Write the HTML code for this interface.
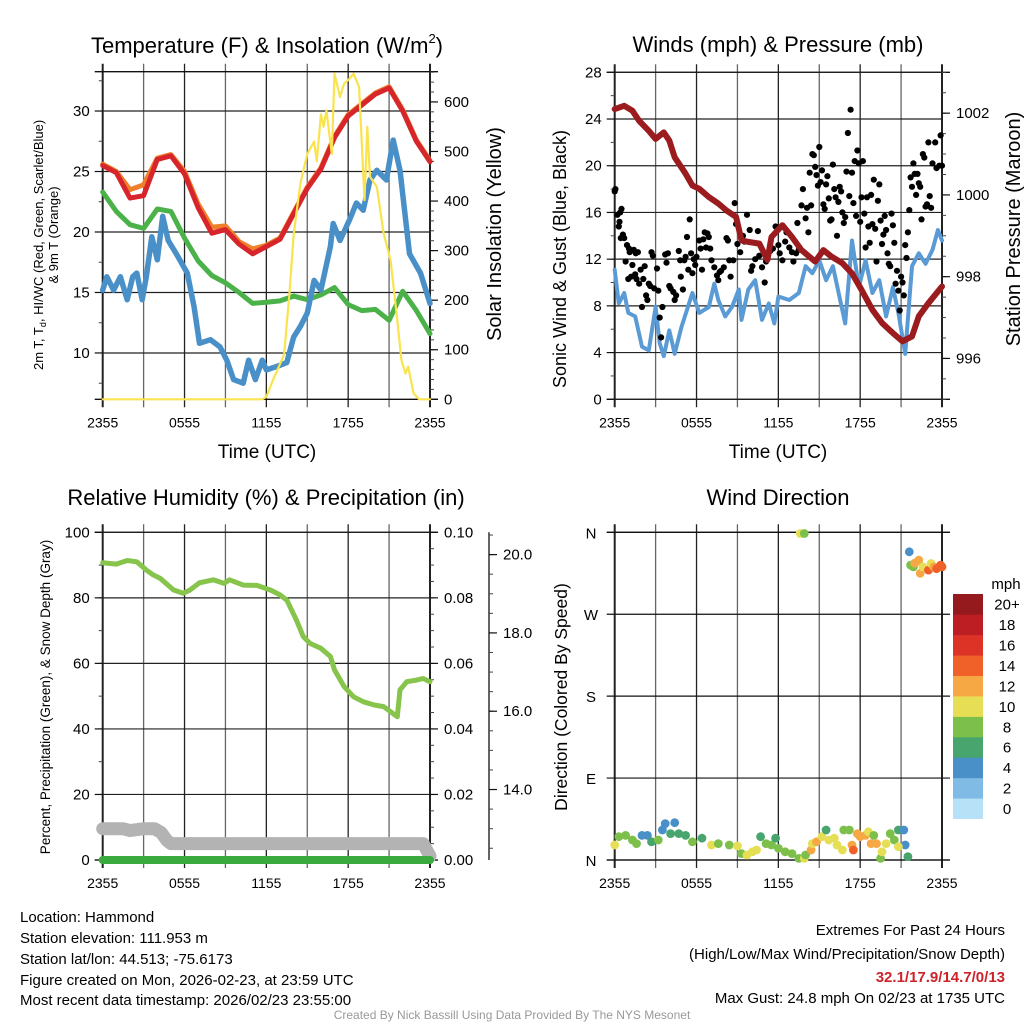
<!DOCTYPE html>
<html><head><meta charset="utf-8">
<style>
html,body{margin:0;padding:0;background:#fff;}
svg text{font-family:"Liberation Sans",sans-serif;fill:#000;}
</style></head>
<body>
<svg id="chart" width="1024" height="1024" viewBox="0 0 1024 1024" xmlns="http://www.w3.org/2000/svg">
<rect width="1024" height="1024" fill="#fff"/>
<g id="layer"></g>
<text x="20" y="922" font-size="15">Location: Hammond</text>
<text x="20" y="943" font-size="15">Station elevation: 111.953 m</text>
<text x="20" y="964" font-size="15">Station lat/lon: 44.513; -75.6173</text>
<text x="20" y="985" font-size="15">Figure created on Mon, 2026-02-23, at 23:59 UTC</text>
<text x="20" y="1005" font-size="15">Most recent data timestamp: 2026/02/23 23:55:00</text>
<text x="1005" y="935" font-size="15" text-anchor="end">Extremes For Past 24 Hours</text>
<text x="1005" y="959" font-size="15" text-anchor="end">(High/Low/Max Wind/Precipitation/Snow Depth)</text>
<text x="1005" y="982" font-size="15" font-weight="bold" text-anchor="end" style="fill:#cc2229">32.1/17.9/14.7/0/13</text>
<text x="1005" y="1003" font-size="15" text-anchor="end">Max Gust: 24.8 mph On 02/23 at 1735 UTC</text>
<text x="512" y="1019" font-size="12" text-anchor="middle" style="fill:#999">Created By Nick Bassill Using Data Provided By The NYS Mesonet</text>
</svg>
<script>
// ---- Data (hours since 2355 UTC) ----
const timeLabels = ["2355","0555","1155","1755","2355"];
const tempHours = [0,1,2,3,4,5,6,7,8,9,10,11,12,13,14,15,16,17,18,19,20,21,22,23,24];
const tempRed = [25.5,24.9,22.8,23.0,26.0,26.3,24.8,22.0,19.9,20.2,19.0,18.2,18.8,19.4,21.5,23.6,25.2,27.8,29.6,30.5,31.4,31.9,30.0,27.5,25.8];
const tempOrange = [25.6,25.0,23.5,23.9,26.1,26.4,25.0,22.3,20.4,20.5,19.2,18.6,18.9,19.5,21.6,23.7,25.3,27.9,29.7,30.6,31.5,32.0,30.1,27.6,25.9];
const tempGreen = [23.3,21.7,20.6,20.3,21.9,21.7,19.5,17.6,16.4,15.8,15.0,14.1,14.2,14.3,14.7,14.4,14.8,15.4,14.0,13.5,13.6,12.7,15.1,13.5,11.6];
const dewHours = [0,0.3,0.8,1.3,1.8,2.2,2.5,2.9,3.2,3.6,4.0,4.4,4.8,5.4,6.2,6.7,7.1,7.9,8.6,9.1,9.6,10.3,10.7,11.2,11.7,12.0,12.8,13.5,14.0,14.5,15.0,15.5,16.0,16.7,16.9,17.4,18.1,18.6,19.1,19.6,20.1,20.8,21.3,21.8,22.5,23.3,24];
const dewBlue = [15.2,16.3,15.2,16.3,14.4,16.3,16.6,14.4,16.3,19.6,17.7,21.3,19.3,18.2,16.6,13.8,10.8,11.1,10.5,9.4,7.8,7.5,9.4,7.8,9.4,8.6,8.9,9.2,11.3,12.2,13.3,16.0,15.2,18.8,20.7,19.3,21.0,22.4,21.8,24.3,25.1,24.3,27.6,25.1,18.2,16.6,14.1];
const solarHours = [0,11.7,12.0,12.5,13.3,13.7,14.0,14.2,14.5,14.7,15.0,15.5,15.7,16.0,16.2,16.4,16.8,17.0,17.4,17.7,18.0,18.4,18.8,19.0,19.2,19.4,19.6,20.1,20.6,21.1,21.6,21.9,22.2,22.4,22.8,23.2,24];
const solarVals = [0,0,5,40,90,215,330,375,435,460,495,520,480,575,550,583,495,657,610,637,644,657,630,516,402,550,449,429,335,281,160,79,52,66,12,0,0];
const presHours = [0,0.7,1.3,1.8,2.5,3.0,3.6,4.0,4.4,5.2,5.7,6.2,6.9,7.6,8.2,8.9,9.3,9.8,10.6,11.2,11.5,12.3,13.0,13.7,14.7,15.3,15.9,16.7,17.4,18.1,18.9,19.6,20.4,21.1,21.8,22.3,23.0,24];
const presVals = [1002.1,1002.18,1002.06,1001.81,1001.57,1001.37,1001.53,1001.33,1000.92,1000.52,1000.23,1000.15,999.95,999.79,999.62,999.46,998.89,998.85,998.81,998.41,998.97,999.26,998.97,998.65,998.37,998.65,998.49,998.33,998.08,997.68,997.19,996.87,996.62,996.42,996.54,997.03,997.35,997.76];
const windHours = [0,0.3,0.7,1.0,1.5,2.0,2.5,3.0,3.3,3.6,4.0,4.4,4.9,5.7,6.2,6.9,7.3,7.6,8.1,8.6,9.1,9.3,9.8,10.3,10.8,11.3,11.7,12.0,12.8,13.5,14.0,14.5,15.0,15.5,16.0,16.7,16.9,17.4,17.9,18.4,18.9,19.4,19.9,20.4,20.8,21.3,21.8,22.3,22.8,23.3,23.7,24];
const windVals = [11.1,8.2,9.1,7.4,7.1,4.5,4.2,7.9,4.8,3.7,5.9,3.9,6.2,9.1,7.4,7.9,9.9,8.5,7.1,7.9,9.4,6.8,9.4,10.2,6.8,8.2,6.5,8.8,8.5,9.1,11.4,10.8,11.9,10.2,11.4,7.6,6.5,13.6,9.6,11.9,9.1,10.2,7.1,9.6,7.4,3.9,11.4,12.5,11.6,12.8,14.5,13.6];
const gustHours = [0,0.05,0.2,0.3,0.35,0.4,0.45,0.5,0.6,0.7,0.8,0.9,1.0,1.05,1.1,1.2,1.3,1.4,1.5,1.55,1.6,1.7,1.8,1.9,2.0,2.1,2.2,2.3,2.4,2.5,2.6,2.7,2.8,2.9,3.1,3.2,3.3,3.4,3.5,3.7,3.8,3.9,4.0,4.1,4.3,4.4,4.5,4.7,4.8,4.85,5.0,5.1,5.2,5.3,5.4,5.5,5.6,5.7,5.8,5.9,6.0,6.2,6.3,6.4,6.5,6.6,6.7,6.8,6.9,7.0,7.1,7.3,7.5,7.6,7.7,7.8,8.0,8.2,8.3,8.4,8.5,8.7,8.8,8.9,9.0,9.2,9.4,9.5,9.7,9.9,10.0,10.1,10.3,10.5,10.6,10.8,11.0,11.1,11.2,11.4,11.6,11.8,12.0,12.1,12.3,12.5,12.6,12.8,13.0,13.1,13.3,13.4,13.5,13.7,13.8,14.0,14.1,14.2,14.3,14.4,14.5,14.6,14.7,14.8,14.9,15.0,15.1,15.2,15.3,15.4,15.5,15.6,15.7,15.8,15.9,16.0,16.1,16.2,16.3,16.4,16.5,16.6,16.7,16.8,16.9,17.0,17.1,17.2,17.3,17.4,17.5,17.6,17.7,17.8,17.9,18.0,18.1,18.2,18.3,18.4,18.5,18.6,18.7,18.8,18.9,19.0,19.1,19.2,19.3,19.4,19.5,19.6,19.7,19.8,19.9,20.0,20.1,20.2,20.3,20.4,20.5,20.6,20.7,20.8,20.9,21.0,21.1,21.2,21.3,21.4,21.5,21.6,21.7,21.8,21.9,22.0,22.1,22.2,22.3,22.4,22.5,22.6,22.7,22.8,22.9,23.0,23.1,23.2,23.3,23.5,23.6,23.8,23.9,24];
const gustVals = [17.8,18.0,15.8,14.8,15.2,16.0,13.8,16.3,14.1,13.8,11.8,13.2,10.3,12.9,12.6,10.5,11.5,12.8,10.7,12.5,10.3,12.6,9.9,11.1,7.9,10.3,11.4,8.9,8.5,9.9,9.7,12.6,12.3,9.5,11.2,9.3,7.0,5.3,7.9,12.4,11.7,12.5,9.7,9.5,9.2,8.5,8.9,12.7,11.9,10.5,9.4,11.9,12.2,13.9,11.1,15.4,12.5,10.8,12.0,11.5,12.2,13.6,12.9,11.1,13.7,14.3,13.0,14.2,13.9,12.9,11.9,11.3,10.6,10.2,10.9,11.0,11.3,13.8,13.6,11.9,10.5,11.9,16.8,15.0,13.3,12.6,14.0,13.5,15.8,14.5,11.0,11.4,12.0,14.4,12.3,11.3,10.0,11.8,12.3,12.7,12.9,14.8,13.2,12.5,11.9,13.5,14.3,13.0,12.6,11.8,12.5,15.1,12.8,16.6,18.0,15.5,16.4,14.3,19.4,16.6,21.0,20.9,19.9,19.2,18.3,21.6,18.6,19.6,16.7,16.3,18.4,19.1,17.2,15.3,15.4,20.1,18.0,17.3,14.0,16.9,18.2,17.8,16.0,15.1,15.6,19.5,22.8,17.4,24.8,19.4,16.8,20.4,15.7,21.3,20.2,15.2,17.3,20.4,15.9,13.0,17.3,14.8,13.4,17.5,15.0,18.8,14.6,11.8,17.0,18.4,15.3,13.3,14.1,15.7,14.5,12.5,11.6,11.4,15.9,14.9,13.4,9.9,11.0,9.3,7.6,10.5,10.0,8.9,13.2,12.1,14.3,16.2,19.0,18.2,20.2,19.3,17.5,19.3,18.5,18.2,15.4,21.0,20.7,16.5,16.7,22.0,17.4,16.4,20.2,22.0,19.8,20.0,22.6,20.0];
const rhHours = [0,1.0,1.8,2.5,3.2,3.7,4.2,5.2,5.9,6.4,7.1,8.1,8.9,9.3,10.3,11.3,12.3,13.0,13.5,14.2,14.7,15.2,16.0,16.7,17.0,17.7,18.4,19.1,19.9,20.6,21.1,21.6,21.8,22.3,23.0,23.5,24];
const rhVals = [90.7,90.3,91.4,91.0,88.5,87.0,86.0,82.4,81.4,82.4,84.6,85.5,84.4,85.5,83.9,83.8,82.4,80.9,79.3,73.2,68.2,66.1,64.6,62.1,58.0,52.9,49.8,48.3,47.3,46.8,45.3,43.7,51.9,54.4,54.9,55.4,54.4];
const snowHours = [0,1.5,2.0,3.0,3.8,4.3,4.7,5.0,12,23.5,24];
const snowVals = [13.0,13.0,12.95,13.0,13.0,12.9,12.7,12.62,12.62,12.62,12.3];
const precipHours = [0,24];
const precipVals = [0,0];
const dirHours = [0,0.3,0.8,1.3,1.6,2.0,2.4,2.7,3.2,3.5,3.7,4.1,4.4,4.7,5.2,5.7,6.4,7.1,7.6,8.4,9.0,9.3,9.7,10.1,10.4,10.7,11.1,11.5,11.8,12.0,12.5,13.0,13.5,13.9,14.0,14.4,14.5,14.8,15.2,15.5,15.7,16.1,16.3,16.7,16.8,17.2,17.4,17.5,17.8,18.0,18.4,18.6,18.8,19.0,19.2,19.5,19.6,19.9,20.2,20.5,20.8,21.2,21.3,21.5,20.8,13.6,13.9,21.6,21.7,21.9,22.0,22.3,22.4,22.6,23.0,23.2,23.4,23.6,23.9,24];
const dirVals = [16.5,25.6,27,22,18,27,27,20,22,33,40,29,41,29,27,20,24,16.5,18,16.5,15.4,7,5.5,9,11,25.6,18,16.5,24,12.8,9,7,1.8,1.8,5.5,11,18,20,25.6,33,22,24,16.5,11,33,33,16.5,11,29,25.6,27,31,18,27,18,1.8,9,18,29,22,33,33,16.5,3.7,14.6,358.7,358.7,338.6,324,322,326,329.5,315,322,318.5,325.7,322,320,324,322];
const dirSpeeds = [9,8,7,8,8,4,4,6,7,4,4,6,4,6,6,8,6,10,8,8,10,8,10,10,10,6,8,8,6,8,8,8,8,10,8,12,10,12,10,6,10,10,10,10,8,8,12,14,12,12,12,10,12,8,12,8,10,10,8,8,6,4,4,6,10,10,8,4,8,8,12,12,12,10,14,10,12,14,14,14];
const cbLabels = ["0","2","4","6","8","10","12","14","16","18","20+"];
const cbColors = ["#b6e1f7","#7fbbe5","#4a90c8","#48a56e","#7cc04b","#e6df55","#f6a844","#ef6129","#dd3327","#bd1e24","#951a1d"];

// ---- helpers ----
const NS = "http://www.w3.org/2000/svg";
const layer = document.getElementById('layer');
function mk(tag, attrs, parent) {
  const e = document.createElementNS(NS, tag);
  for (const k in attrs) e.setAttribute(k, attrs[k]);
  (parent || layer).appendChild(e);
  return e;
}
function txt(s, x, y, size, anchor, parent, rot) {
  const t = mk('text', {x: x, y: y, 'font-size': size, 'text-anchor': anchor || 'middle'}, parent);
  if (rot) t.setAttribute('transform', 'rotate(-90 ' + x + ' ' + y + ')');
  t.textContent = s;
  return t;
}
function linScale(d0, d1, r0, r1) { return v => r0 + (v - d0) / (d1 - d0) * (r1 - r0); }
function pathFrom(xs, ys, sx, sy) {
  let d = '';
  for (let i = 0; i < xs.length; i++) d += (i ? 'L' : 'M') + sx(xs[i]).toFixed(1) + ' ' + sy(ys[i]).toFixed(1);
  return d;
}

function panelFrame(L, R, T, B, name) {
  const g = mk('g', {});
  
  
  const sx = linScale(0, 24, L, R);
  for (let h = 0; h <= 24; h += 3) {
    const x = sx(h);
    const l = mk('line', {x1: x, x2: x, y1: T - 8, y2: B + 8, stroke: (h % 6 === 0) ? '#222' : '#666', 'stroke-width': (h === 0 || h === 24) ? 2 : 1.3}, g);
    
    
  }
  mk('line', {x1: L - 8, x2: R + 8, y1: T, y2: T, stroke: '#111', 'stroke-width': 1.3}, g);
  mk('line', {x1: L - 8, x2: R + 8, y1: B, y2: B, stroke: '#111', 'stroke-width': 1.3}, g);
  for (let i = 0; i < timeLabels.length; i++) {
    const t = txt(timeLabels[i], sx(i * 6), B + 28, 14, 'middle', g);
    
    
  }
  return sx;
}
function yAxis(x, T, B, d0, d1, majors, fmt, minorStep, side, name, gridL, gridR) {
  const g = mk('g', {});
  
  
  const sy = linScale(d0, d1, B, T);
  const dir = side === 'left' ? -1 : 1;
  if (minorStep) {
    for (let v = Math.ceil(d0 / minorStep) * minorStep; v <= d1 + 1e-9; v += minorStep) {
      mk('line', {x1: x, x2: x + dir * 4, y1: sy(v), y2: sy(v), stroke: '#444', 'stroke-width': 1}, g);
    }
  }
  majors.forEach(v => {
    const y = sy(v);
    if (gridL !== undefined) mk('line', {x1: gridL, x2: gridR, y1: y, y2: y, stroke: '#222', 'stroke-width': 1.2}, g);
    mk('line', {x1: x, x2: x + dir * 8, y1: y, y2: y, stroke: '#111', 'stroke-width': 1.2}, g);
    const t = txt(fmt(v), side === 'left' ? x - 13 : x + 14, y + 5, 15, side === 'left' ? 'end' : 'start', g);
    
    
  });
  return sy;
}
function line(xs, ys, sx, sy, color, w, name) {
  const p = mk('path', {d: pathFrom(xs, ys, sx, sy), fill: 'none', stroke: color, 'stroke-width': w, 'stroke-linejoin': 'round', 'stroke-linecap': 'round'});
  
  
  return p;
}

// ===== Panel 1: Temperature =====
{
  const L = 102.7, R = 430, T = 71.7, B = 399.3;
  const sx = panelFrame(L, R, T, B, 'temperature');
  const sy = yAxis(L, T, B, 6.17, 33.25, [10,15,20,25,30], v => String(v), 2.5, 'left', 'temperature-y-axis', L, R);
  const ss = yAxis(R, T, B, 0, 661, [0,100,200,300,400,500,600], v => String(v), 20, 'right', 'solar-y-axis');
  line(tempHours, tempOrange, sx, sy, '#f07f2b', 5, 'temp-9m-orange-line');
  line(tempHours, tempRed, sx, sy, '#d7262b', 5, 'temp-2m-red-line');
  line(tempHours, tempGreen, sx, sy, '#4bb24a', 5, 'dewpoint-green-line');
  line(dewHours, dewBlue, sx, sy, '#4a90c8', 5.5, 'windchill-blue-line');
  line(solarHours, solarVals, sx, ss, '#f9e34e', 2.2, 'solar-yellow-line');
  let t = mk('text', {x: 267, y: 53, 'font-size': 22, 'text-anchor': 'middle'});
   
  const t1 = mk('tspan', {}, t); t1.textContent = 'Temperature (F) & Insolation (W/m';
  const t2 = mk('tspan', {'font-size': 13, dy: -10}, t); t2.textContent = '2';
  const t3 = mk('tspan', {dy: 10}, t); t3.textContent = ')';
  t = mk('text', {x: 43, y: 370, 'font-size': 13, 'text-anchor': 'start', transform: 'rotate(-90 43 370)'});
   
  const a = mk('tspan', {}, t); a.textContent = '2m T, T';
  const b = mk('tspan', {'font-size': 9, dy: 3}, t); b.textContent = 'd';
  const c = mk('tspan', {dy: -3}, t); c.textContent = ', HI/WC (Red, Green, Scarlet/Blue)';
  t = txt('& 9m T (Orange)', 58, 235, 13, 'middle', null, true);  
  t = txt('Solar Insolation (Yellow)', 501, 234, 20, 'middle', null, true);  
  t = txt('Time (UTC)', 267, 458, 19, 'middle');  
}

// ===== Panel 2: Winds =====
{
  const L = 614.7, R = 942, T = 72.3, B = 399.3;
  const sx = panelFrame(L, R, T, B, 'winds');
  const sy = yAxis(L, T, B, 0, 28, [0,4,8,12,16,20,24,28], v => String(v), 2, 'left', 'wind-y-axis', L, R);
  const sp = yAxis(R, T, B, 995, 1003, [996,998,1000,1002], v => String(v), 0.5, 'right', 'pressure-y-axis');
  line(windHours, windVals, sx, sy, '#5b9bd5', 4, 'sonic-wind-blue-line');
  const gg = mk('g', {});
  
  
  for (let i = 0; i < gustHours.length; i++) {
    const c = mk('circle', {cx: sx(gustHours[i]).toFixed(1), cy: sy(gustVals[i]).toFixed(1), r: 3.1, fill: '#000'}, gg);
    
    
  }
  line(presHours, presVals, sx, sp, '#9b1c1f', 6, 'pressure-maroon-line');
  let t = txt('Winds (mph) & Pressure (mb)', 778, 52, 22, 'middle');  
  t = txt('Sonic Wind & Gust (Blue, Black)', 566, 259, 18, 'middle', null, true);  
  t = txt('Station Pressure (Maroon)', 1020, 229, 20, 'middle', null, true);  
  t = txt('Time (UTC)', 778, 458, 19, 'middle');  
}

// ===== Panel 3: RH & Precip =====
{
  const L = 102.7, R = 430, T = 532.3, B = 860;
  const sx = panelFrame(L, R, T, B, 'humidity');
  const sy = yAxis(L, T, B, 0, 100, [0,20,40,60,80,100], v => String(v), 10, 'left', 'rh-y-axis', L, R);
  const sp = yAxis(R, T, B, 0, 0.1, [0,0.02,0.04,0.06,0.08,0.1], v => v.toFixed(2), 0.005, 'right', 'precip-y-axis');
  mk('line', {x1: 489, x2: 489, y1: T, y2: B, stroke: '#111', 'stroke-width': 1.3});
  const ssn = yAxis(489, T, B, 12.2, 20.57, [14,16,18,20], v => v.toFixed(1), 0.5, 'right', 'snow-y-axis');
  line(snowHours, snowVals, sx, ssn, '#b3b3b3', 13, 'snow-depth-gray-line');
  line(precipHours, precipVals, sx, sp, '#3aaa3f', 8, 'precip-green-line');
  line(rhHours, rhVals, sx, sy, '#86c44b', 5, 'rh-green-line');
  let t = txt('Relative Humidity (%) & Precipitation (in)', 266, 505, 22, 'middle');  
  t = txt('Percent, Precipitation (Green), & Snow Depth (Gray)', 50, 697, 13.5, 'middle', null, true);  
}

// ===== Panel 4: Wind Direction =====
{
  const L = 614.7, R = 942, T = 532.3, B = 860;
  const sx = panelFrame(L, R, T, B, 'direction');
  const dirLabels = ['N','E','S','W','N'];
  const sy = linScale(0, 360, B, T);
  const g = mk('g', {});
  
  
  dirLabels.forEach((s, i) => {
    const y = sy(i * 90);
    mk('line', {x1: L - 8, x2: R + 8, y1: y, y2: y, stroke: '#111', 'stroke-width': 1.2}, g);
    const t = txt(s, 591, y + 6, 15, 'middle', g);
    
    
  });
  function col(s) { return cbColors[Math.min(10, Math.max(0, Math.round(s / 2)))]; }
  const pg = mk('g', {});
  
  
  for (let i = 0; i < dirHours.length; i++) {
    const c = mk('circle', {cx: sx(dirHours[i]).toFixed(1), cy: sy(dirVals[i]).toFixed(1), r: 4.4, fill: col(dirSpeeds[i])}, pg);
    
    
  }
  const cb = mk('g', {});
  
  
  const cbTop = 594, cbH = 224.7 / 11;
  for (let i = 0; i < 11; i++) {
    const y = cbTop + (10 - i) * cbH;
    const r = mk('rect', {x: 953, y: y, width: 30, height: cbH + 0.3, fill: cbColors[i]}, cb);
    
    
    const t = txt(cbLabels[i], 1007, y + cbH / 2 + 5.5, 15, 'middle', cb);
    
    
  }
  let t = txt('mph', 1006, 589, 15, 'middle', cb);  
  t = txt('Wind Direction', 778, 505, 22, 'middle');  
  t = txt('Direction (Colored By Speed)', 567, 697, 17.5, 'middle', null, true);  
}
</script>
</body></html>
